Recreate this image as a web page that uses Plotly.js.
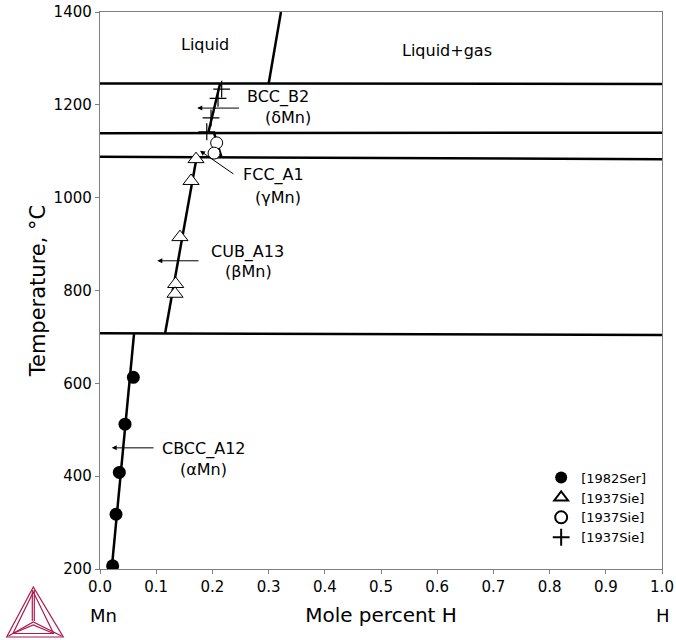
<!DOCTYPE html>
<html><head><meta charset="utf-8">
<script src="https://cdn.plot.ly/plotly-3.0.1.min.js"></script>
<style>html,body{margin:0;padding:0;background:#fff}#plot{width:676px;height:640px}</style>
</head><body><div id="plot"></div>
<script>
// ---- phase boundary lines (x = mole fraction H, T in °C) ----
const liqGasX = [0.300, 0.322];   const liqGasT = [1245, 1400];
const iso1246X = [0, 1];          const iso1246T = [1246, 1245];
const iso1139X = [0, 1];          const iso1139T = [1139, 1140];
const iso1087X = [0, 1];          const iso1087T = [1088, 1083];
const iso707X = [0, 1];           const iso707T = [708, 704];
const deltaX = [0.2135, 0.1927];  const deltaT = [1245, 1140];
const gammaX = [0.203, 0.2165];   const gammaT = [1139, 1086];
const betaX = [0.172, 0.1157];    const betaT = [1087, 707];
const alphaX = [0.0605, 0.0208];  const alphaT = [706, 200];

// ---- experimental points ----
const ser1982X = [0.0593, 0.0445, 0.0344, 0.0285, 0.0225];
const ser1982T = [613, 512, 408, 318, 207];
const sieTriX = [0.1708, 0.162, 0.1423, 0.1346, 0.1335];
const sieTriT = [1083, 1036, 915, 814, 793];
const sieCircX = [0.2076, 0.203];
const sieCircT = [1118, 1096];
const siePlusX = [0.2165, 0.210, 0.1975, 0.190];
const siePlusT = [1234, 1214, 1172, 1142];

// ---- region labels ----
const labelText = ["Liquid", "Liquid+gas", "BCC_B2", "(δMn)", "FCC_A1", "(γMn)", "CUB_A13", "(βMn)", "CBCC_A12", "(αMn)"];
const labelX = [0.187, 0.617, 0.316, 0.335, 0.308, 0.317, 0.2625, 0.264, 0.185, 0.184];
const labelT = [1331, 1316, 1217, 1172, 1049, 1001, 883, 840, 458, 415];

// ---- arrows ----
const arrowTailX = [0.250, 0.240, 0.178, 0.098];
const arrowTailT = [1193, 1049, 864, 461];
const arrowHeadX = [0.173, 0.178, 0.102, 0.0208];
const arrowHeadT = [1193, 1101, 864, 461];

// ---- axis ticks ----
const xTicks = [0, 0.1, 0.2, 0.3, 0.4, 0.5, 0.6, 0.7, 0.8, 0.9, 1.0];
const yTicks = [200, 400, 600, 800, 1000, 1200, 1400];

const FONT = "DejaVu Sans, Verdana, sans-serif";
const lineStyle = {color: "black", width: 2.5};
function ln(x, y) { return {x: x, y: y, mode: "lines", line: lineStyle, showlegend: false, hoverinfo: "skip"}; }

const traces = [
  ln(liqGasX, liqGasT), ln(iso1246X, iso1246T), ln(iso1139X, iso1139T), ln(iso1087X, iso1087T), ln(iso707X, iso707T),
  ln(deltaX, deltaT), ln(gammaX, gammaT), ln(betaX, betaT), ln(alphaX, alphaT),
  {x: ser1982X, y: ser1982T, mode: "markers", name: "[1982Ser]",
   marker: {symbol: "circle", size: 13, color: "black"}},
  {x: sieTriX, y: sieTriT, mode: "markers", name: "[1937Sie]",
   marker: {symbol: "triangle-up", size: 14, color: "white", line: {color: "black", width: 1}}},
  {x: sieCircX, y: sieCircT, mode: "markers", name: "[1937Sie]",
   marker: {symbol: "circle", size: 12, color: "white", line: {color: "black", width: 1}}},
  {x: siePlusX, y: siePlusT, mode: "markers", name: "[1937Sie]",
   marker: {symbol: "cross-thin-open", size: 12, color: "black", line: {color: "black", width: 1.2}}}
];

const annotations = [];
for (let i = 0; i < labelText.length; i++) {
  annotations.push({x: labelX[i], y: labelT[i], xref: "x", yref: "y", text: labelText[i], showarrow: false,
    font: {family: FONT, size: 16, color: "black"}, xanchor: "center", yanchor: "middle"});
}
for (let i = 0; i < arrowTailX.length; i++) {
  annotations.push({x: arrowHeadX[i], y: arrowHeadT[i], ax: arrowTailX[i], ay: arrowTailT[i],
    xref: "x", yref: "y", axref: "x", ayref: "y", text: "", showarrow: true,
    arrowhead: 2, arrowsize: 1, arrowwidth: 1, arrowcolor: "black", standoff: 0, startstandoff: 0});
}
annotations.push({x: 0.007, y: -0.083, xref: "paper", yref: "paper", text: "Mn", showarrow: false,
  font: {family: FONT, size: 18, color: "black"}, xanchor: "center", yanchor: "middle"});
annotations.push({x: 1.002, y: -0.083, xref: "paper", yref: "paper", text: "H", showarrow: false,
  font: {family: FONT, size: 18, color: "black"}, xanchor: "center", yanchor: "middle"});

// Thermo-Calc style logo (paper coordinates from pixel positions)
function px(x) { return (x - 100) / 562; }
function py(y) { return (569 - y) / 557; }
function path(pts, close) {
  let s = "M " + px(pts[0][0]) + " " + py(pts[0][1]);
  for (let i = 1; i < pts.length; i++) s += " L " + px(pts[i][0]) + " " + py(pts[i][1]);
  return s + (close ? " Z" : "");
}
const logoColor = "#ad1a50";
const logoPaths = [
  path([[33.3, 587], [6.7, 637], [63.3, 637]], true),
  path([[33.3, 592], [13, 633.5], [53.6, 633.5]], true),
  path([[32.3, 590], [32.3, 621]], false),
  path([[34.3, 590], [34.3, 621]], false),
  path([[8.5, 636], [33.3, 622], [61.5, 636]], false),
  path([[13, 633.5], [33.3, 625], [53.6, 633.5]], false)
];
const shapes = logoPaths.map(p => ({type: "path", path: p, xref: "paper", yref: "paper",
  line: {color: logoColor, width: 1.2}}));

const axisCommon = {showline: true, mirror: true, linecolor: "#7f7f7f", linewidth: 1.2,
  ticks: "outside", ticklen: 4, tickcolor: "#7f7f7f", showgrid: false, zeroline: false,
  tickfont: {family: FONT, size: 15, color: "black"}};

const layout = {
  width: 676, height: 640,
  margin: {l: 100, r: 14, t: 12, b: 71},
  paper_bgcolor: "white", plot_bgcolor: "white",
  font: {family: FONT, color: "black"},
  xaxis: Object.assign({}, axisCommon, {range: [0, 1], tickvals: xTicks, tickformat: ".1f",
    title: {text: "Mole percent H", font: {family: FONT, size: 20, color: "black"}, standoff: 12}}),
  yaxis: Object.assign({}, axisCommon, {range: [200, 1400], tickvals: yTicks,
    title: {text: "Temperature, °C", font: {family: FONT, size: 21, color: "black"}, standoff: 2}}),
  legend: {x: 0.785, y: 0.191, xanchor: "left", yanchor: "top", bgcolor: "rgba(0,0,0,0)",
    font: {family: FONT, size: 13, color: "black"}, tracegroupgap: 0, itemsizing: "constant"},
  annotations: annotations,
  shapes: shapes,
  showlegend: true
};

Plotly.newPlot("plot", traces, layout, {displayModeBar: false, staticPlot: true});
</script>
</body></html>
